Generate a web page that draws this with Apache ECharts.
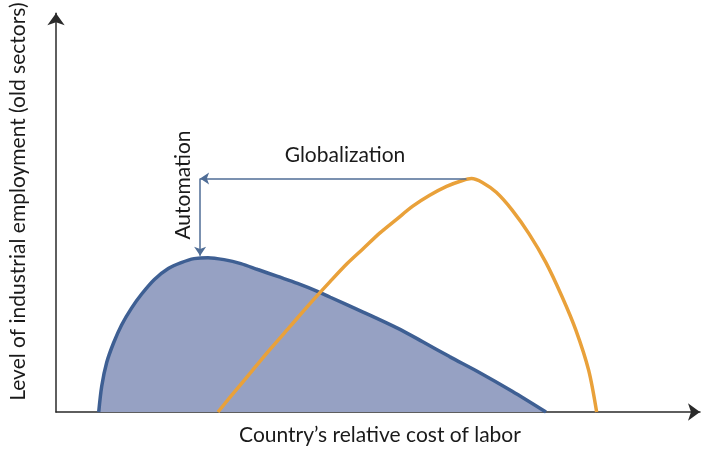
<!DOCTYPE html>
<html>
<head>
<meta charset="utf-8">
<script src="https://cdn.jsdelivr.net/npm/echarts@6/dist/echarts.min.js"></script>
<style>
  html, body { margin: 0; padding: 0; background: #fff; }
  #chart { width: 701px; height: 451px; }
</style>
</head>
<body>
<div id="chart"></div>
<script>
// old-sector employment curve (x = relative cost of labor, y = employment), arbitrary units
var oldX = [43, 46, 51, 58, 66, 76, 86, 99, 113, 126, 139, 153, 169, 186, 203, 223, 243, 263, 276, 309, 343, 369, 396, 426, 459, 493];
var oldY = [0, 26, 50, 70, 88, 105, 119, 134, 145, 151, 155, 156, 154, 150, 144, 137, 130, 122, 116, 101, 85, 71, 56, 40, 21, 0];
// globalized curve
var globX = [163, 176, 196, 216, 236, 256, 276, 293, 309, 326, 343, 359, 376, 393, 409, 418, 429, 443, 459, 476, 493, 509, 523, 536, 544];
var globY = [0, 16, 40, 64, 87, 110, 132, 150, 165, 181, 195, 208, 219, 228, 234, 236, 232, 222, 204, 180, 151, 117, 83, 42, 0];
// annotation arrows
var globArrow = [[413, 236], [145, 236]];
var autoArrow = [[145, 236], [145, 158]];

var textFont = 'Lato';
var textColor = '#1a1a1a';

function pairs(xs, ys) {
    var out = [];
    for (var i = 0; i < xs.length; i++) {
        out.push([xs[i], ys[i]]);
    }
    return out;
}

var myChart = echarts.init(document.getElementById('chart'));
var option = {
    animation: false,
    grid: {
        left: 52,
        top: 10,
        width: 648,
        height: 403
    },
    xAxis: {
        type: 'value',
        min: 0,
        max: 648,
        name: 'Country\u2019s relative cost of labor',
        nameLocation: 'middle',
        nameGap: 13,
        nameTextStyle: {
            fontFamily: textFont,
            fontSize: 21,
            color: textColor,
            padding: [0, 0, 0, 4]
        },
        axisLine: {
            show: true,
            symbol: ['none', 'arrow'],
            symbolSize: [13, 12],
            lineStyle: { color: '#2a2a2a', width: 1.5 }
        },
        axisTick: { show: false },
        axisLabel: { show: false },
        splitLine: { show: false }
    },
    yAxis: {
        type: 'value',
        min: 0,
        max: 403,
        name: 'Level of industrial employment (old sectors)',
        nameLocation: 'middle',
        nameGap: 27,
        nameTextStyle: {
            fontFamily: textFont,
            fontSize: 21,
            color: textColor,
            padding: [0, 0, 0, 22]
        },
        axisLine: {
            show: true,
            symbol: ['none', 'arrow'],
            symbolSize: [13, 12],
            lineStyle: { color: '#2a2a2a', width: 1.5 }
        },
        axisTick: { show: false },
        axisLabel: { show: false },
        splitLine: { show: false }
    },
    series: [
        {
            type: 'line',
            data: pairs(oldX, oldY),
            smooth: 0.3,
            symbol: 'none',
            lineStyle: { color: '#3e5f93', width: 3.5 },
            areaStyle: { color: '#96a1c3', opacity: 1 },
            z: 2,
            markLine: {
                silent: true,
                symbol: ['none', 'arrow'],
                symbolSize: 9,
                label: { show: false },
                lineStyle: { color: '#4f6d96', width: 1.5, type: 'solid' },
                data: [
                    [{ coord: globArrow[0] }, { coord: globArrow[1] }],
                    [{ coord: autoArrow[0] }, { coord: autoArrow[1] }]
                ]
            }
        },
        {
            type: 'line',
            data: pairs(globX, globY),
            smooth: 0.3,
            symbol: 'none',
            lineStyle: { color: '#e9a13a', width: 3.5 },
            z: 3
        }
    ],
    graphic: [
        {
            type: 'text',
            x: 345,
            y: 155,
            style: {
                text: 'Globalization',
                fontFamily: textFont,
                fontSize: 21,
                fill: textColor,
                align: 'center',
                verticalAlign: 'middle'
            }
        },
        {
            type: 'text',
            x: 183,
            y: 185,
            rotation: Math.PI / 2,
            style: {
                text: 'Automation',
                fontFamily: textFont,
                fontSize: 21,
                fill: textColor,
                align: 'center',
                verticalAlign: 'middle'
            }
        }
    ]
};
myChart.setOption(option, true);
</script>
</body>
</html>
